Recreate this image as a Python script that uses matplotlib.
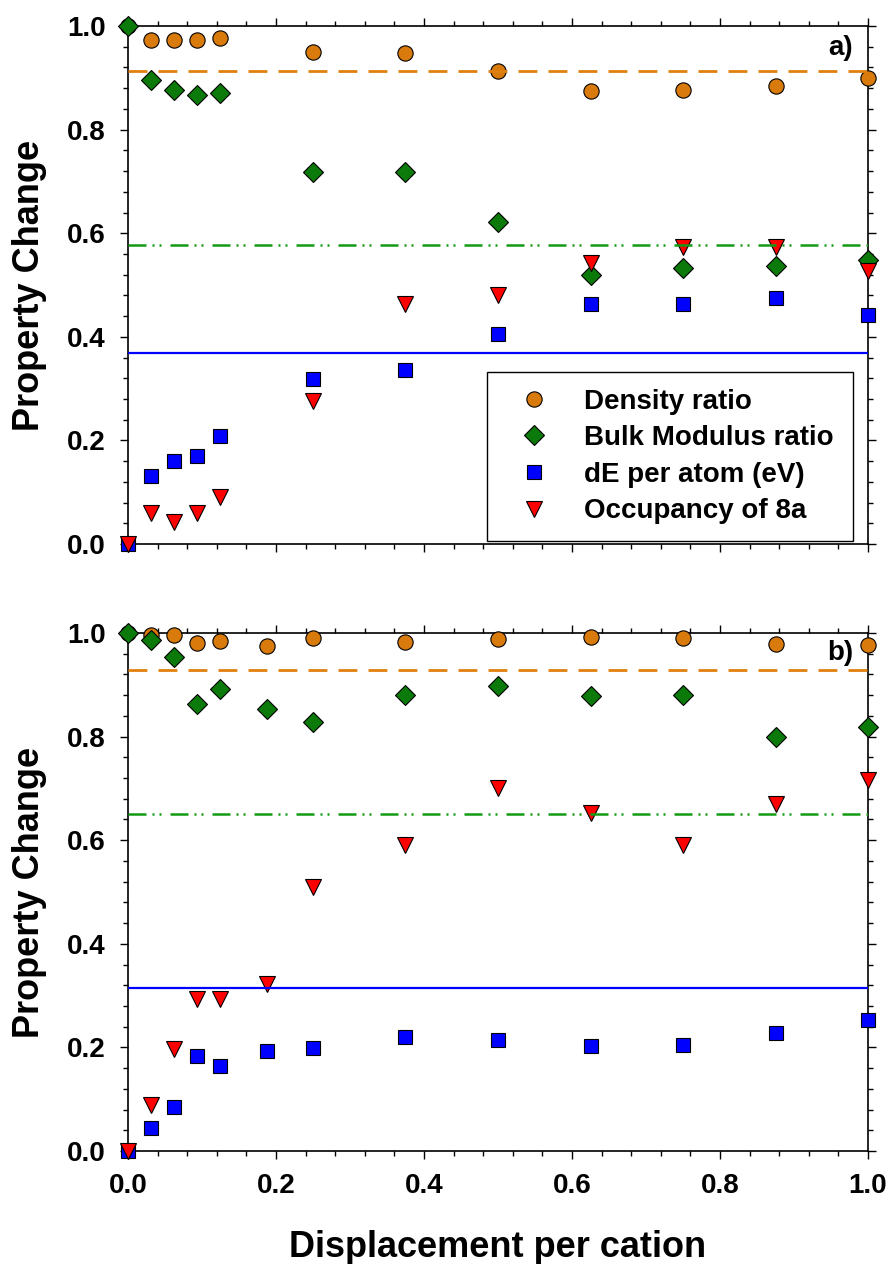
import numpy as np
import matplotlib
matplotlib.use("Agg")
import matplotlib.pyplot as plt
from matplotlib.ticker import MultipleLocator, FormatStrFormatter

plt.rcParams['font.family'] = ['Liberation Sans', 'DejaVu Sans']
plt.rcParams['font.weight'] = 'bold'

# panel a) data
x_a = [0.0, 0.03125, 0.0625, 0.09375, 0.125, 0.25, 0.375, 0.5, 0.625, 0.75, 0.875, 1.0]
density_a = [1.0, 0.974, 0.973, 0.973, 0.976, 0.949, 0.947, 0.914, 0.874, 0.876, 0.885, 0.899]
bulk_a = [1.0, 0.895, 0.876, 0.867, 0.871, 0.718, 0.719, 0.621, 0.519, 0.533, 0.536, 0.548]
de_a = [0.0, 0.131, 0.160, 0.170, 0.208, 0.319, 0.336, 0.405, 0.464, 0.464, 0.474, 0.443]
occ_a = [0.0, 0.059, 0.043, 0.059, 0.090, 0.277, 0.464, 0.481, 0.543, 0.574, 0.574, 0.528]
means_a = [0.914, 0.577, 0.369]  # density, bulk, dE

# panel b) data
x_b = [0.0, 0.03125, 0.0625, 0.09375, 0.125, 0.1875, 0.25, 0.375, 0.5, 0.625, 0.75, 0.875, 1.0]
density_b = [1.0, 0.997, 0.996, 0.981, 0.985, 0.974, 0.990, 0.983, 0.988, 0.992, 0.990, 0.978, 0.976]
bulk_b = [1.0, 0.986, 0.953, 0.863, 0.892, 0.854, 0.828, 0.880, 0.897, 0.879, 0.881, 0.800, 0.818]
de_b = [0.0, 0.045, 0.085, 0.183, 0.165, 0.193, 0.198, 0.221, 0.214, 0.203, 0.205, 0.228, 0.252]
occ_b = [0.0, 0.089, 0.197, 0.294, 0.294, 0.323, 0.510, 0.590, 0.700, 0.653, 0.590, 0.669, 0.717]
means_b = [0.929, 0.650, 0.314]

labels = ['Density ratio', 'Bulk Modulus ratio', 'dE per atom (eV)', 'Occupancy of 8a']
orange = '#d97a0c'
green = '#0b7a0b'
blue = '#0000ff'
red = '#ff0000'

fig = plt.figure(figsize=(8.9, 12.64), dpi=100)
ax_a = fig.add_axes([0.1438, 0.5696, 0.8315, 0.4098])
ax_b = fig.add_axes([0.1438, 0.0894, 0.8315, 0.4098])


def draw_panel(ax, x, dens, bulk, de, occ, means):
    mk = dict(linestyle='none', markeredgecolor='black', markeredgewidth=0.8,
              clip_on=False, zorder=4)
    ax.plot(x, dens, marker='o', markersize=11, color=orange, label=labels[0], **mk)
    ax.plot(x, bulk, marker='D', markersize=10.2, color=green, label=labels[1], **mk)
    ax.plot(x, de, marker='s', markersize=10.2, color=blue, label=labels[2], **mk)
    ax.plot(x, occ, marker='v', markersize=12, color=red, label=labels[3], **mk)

    ax.axhline(means[0], color='#e0800f', lw=2.0, dashes=(6.8, 4.0), zorder=5)
    ax.axhline(means[1], color='#139a13', lw=1.8, dashes=(7.2, 2.4, 0.8, 2.0, 0.8, 3.6), zorder=5)
    ax.axhline(means[2], color=blue, lw=1.6, zorder=5)

    ax.set_xlim(0, 1)
    ax.set_ylim(0, 1)
    ax.xaxis.set_major_locator(MultipleLocator(0.2))
    ax.xaxis.set_minor_locator(MultipleLocator(0.04))
    ax.yaxis.set_major_locator(MultipleLocator(0.2))
    ax.yaxis.set_minor_locator(MultipleLocator(0.04))
    ax.yaxis.set_major_formatter(FormatStrFormatter('%.1f'))
    ax.xaxis.set_major_formatter(FormatStrFormatter('%.1f'))
    ax.tick_params(which='both', direction='out', top=True, right=True, width=1.0,
                   labelsize=20, pad=10)
    ax.tick_params(which='major', length=6)
    ax.tick_params(which='minor', length=3.5)
    for sp in ax.spines.values():
        sp.set_linewidth(1.2)


draw_panel(ax_a, x_a, density_a, bulk_a, de_a, occ_a, means_a)
draw_panel(ax_b, x_b, density_b, bulk_b, de_b, occ_b, means_b)
ax_a.tick_params(labelbottom=False)

ax_a.text(0.98, 0.957, 'a)', transform=ax_a.transAxes, ha='right', va='center',
          fontsize=20, fontweight='bold')
ax_b.text(0.98, 0.961, 'b)', transform=ax_b.transAxes, ha='right', va='center',
          fontsize=20, fontweight='bold')

leg = ax_a.legend(loc='lower left', bbox_to_anchor=(0.485, 0.006, 0.495, 0.328),
                  mode='expand', fontsize=20, frameon=True, fancybox=False,
                  framealpha=1, edgecolor='black', borderpad=0.6,
                  handlelength=2.2, handletextpad=0.7, labelspacing=0.38,
                  borderaxespad=0)
leg.get_frame().set_linewidth(1.0)
leg.set_zorder(6)

fig.text(30 / 890, 1 - 285 / 1264, 'Property Change', rotation=90, ha='center',
         va='center', fontsize=26, fontweight='bold')
fig.text(30 / 890, 1 - 892 / 1264, 'Property Change', rotation=90, ha='center',
         va='center', fontsize=26, fontweight='bold')
fig.text(498 / 890, 0.0134, 'Displacement per cation', ha='center', va='center',
         fontsize=26, fontweight='bold')

fig.savefig('out.png', dpi=100)
